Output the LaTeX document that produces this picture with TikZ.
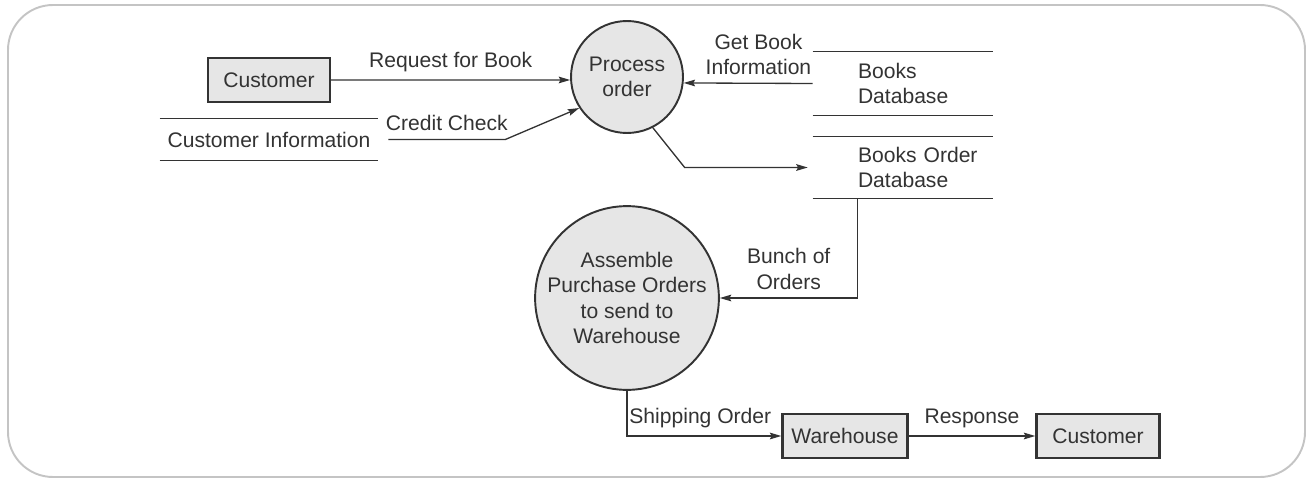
\documentclass[tikz,border=0pt]{standalone}
\usepackage{fontspec}
\setmainfont{Liberation Sans}
\usepackage{xcolor}
\usetikzlibrary{arrows.meta, positioning, calc}
\hfuzz=30pt
\definecolor{inkgray}{HTML}{333333}
\definecolor{boxfill}{HTML}{E6E6E6}
\definecolor{framegray}{HTML}{C4C4C4}
\tikzstyle{entity}    = [rectangle, minimum height=0.87cm, text centered, draw=inkgray, fill=boxfill, line width=1.4pt]
\tikzstyle{process}   = [circle, align=center, draw=inkgray, fill=boxfill, line width=1.1pt, inner sep=0pt]
\tikzstyle{datastore} = [rectangle, inner ysep=0pt]
\tikzstyle{storeline} = [line width=0.9pt, draw=inkgray]
\tikzstyle{arrow}     = [line width=0.75pt, draw=inkgray, -{Stealth[length=6.5pt, width=3.8pt, inset=1pt]}]
\tikzstyle{flowlabel} = [align=center, inner sep=4.5pt]

\begin{document}
\begin{tikzpicture}[x=0.02cm, y=-0.02cm, font=\fontsize{12}{14.5}\selectfont, text=inkgray]

\useasboundingbox (0,0) rectangle (1313,480);
\draw [framegray, line width=1.1pt, rounded corners=0.9cm] (8,5) rectangle (1305,477);

% Processes and external entities
\node (cust) [entity, minimum width=2.44cm] at (269,80) {Customer};
\node (porder) [process, minimum size=2.24cm] at (627,77) {Process\\order};
\node (assemble) [process, minimum size=3.6cm] at (627,298) {Assemble\\Purchase Orders\\to send to\\Warehouse};
\node (warehouse) [entity, minimum width=2.5cm] at (845,436) {Warehouse};
\node (cust2) [entity, minimum width=2.46cm] at (1098,436) {Customer};

% Data stores
\node (cinfo) [datastore, minimum width=4.36cm, minimum height=0.82cm] at (269,139.5) {Customer Information};
\node (bookdb) [datastore, text width=1.8cm, inner xsep=0.9cm, align=left, minimum height=1.26cm] at (903,83.5) {Books\\Database};
\node (orderdb) [datastore, text width=1.8cm, inner xsep=0.9cm, align=left, minimum height=1.22cm] at (903,167.5) {\mbox{Books Order}\\Database};

\draw [storeline] (cinfo.north west) -- (cinfo.north east) (cinfo.south west) -- (cinfo.south east);
\draw [storeline] (bookdb.north west) -- (bookdb.north east) (bookdb.south west) -- (bookdb.south east);
\draw [storeline] (orderdb.north west) -- (orderdb.north east) (orderdb.south west) -- (orderdb.south east);

% Flows into Process order
\draw [arrow] (cust.east) -- node[flowlabel, above]{Request for Book} (porder.183);
\draw [arrow] ([xshift=0.2cm]cinfo.east) -- node[flowlabel, above]{Credit Check} ++(117,0) -- (porder.213);
\draw [arrow] (bookdb.west) -- node[flowlabel, above, pos=0.42]{Get Book\\Information} (porder.-6);

% Orders to the store and on to assembly
\draw [arrow] (porder.-63) -- ($(orderdb.west)+(-128,0)$) -- ([xshift=-0.1cm]orderdb.west);
\draw [arrow] ($(orderdb.south west)+(45,0)$) |- node[flowlabel, above, pos=0.75]{Bunch of\\Orders} (assemble.east);

% Shipping
\draw [arrow] (assemble.south) |- node[flowlabel, above right, pos=0.5, inner xsep=1pt]{Shipping Order} (warehouse.west);
\draw [arrow] (warehouse.east) -- node[flowlabel, above]{Response} (cust2.west);

\end{tikzpicture}
\end{document}
